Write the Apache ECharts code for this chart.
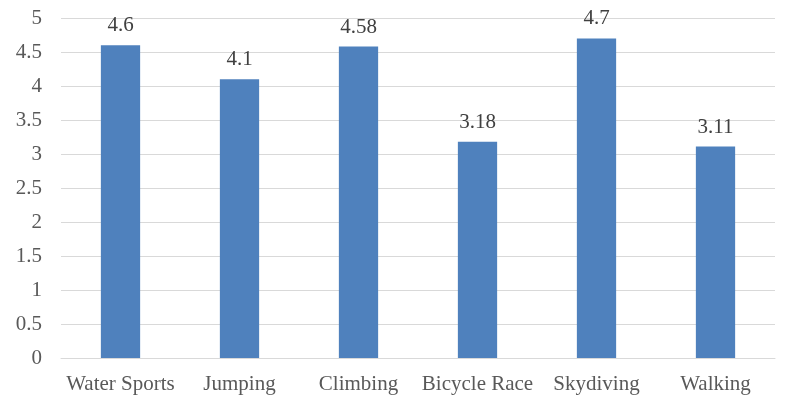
<!DOCTYPE html>
<html>
<head>
<meta charset="utf-8">
<script src="https://cdn.jsdelivr.net/npm/echarts@6/dist/echarts.min.js"></script>
<style>
  html, body { margin: 0; padding: 0; background: #fff; }
  #chart { width: 789px; height: 398px; }
</style>
</head>
<body>
<div id="chart"></div>
<script>
var categories = ['Water Sports', 'Jumping', 'Climbing', 'Bicycle Race', 'Skydiving', 'Walking'];
var values = [4.6, 4.1, 4.58, 3.18, 4.7, 3.11];
var valueLabels = ['4.6', '4.1', '4.58', '3.18', '4.7', '3.11'];

var font = '"Liberation Serif", "Times New Roman", serif';
var chart = echarts.init(document.getElementById('chart'));
chart.setOption({
    animation: false,
    grid: { left: 61, right: 14, top: 18, bottom: 40, containLabel: false },
    xAxis: {
        type: 'category',
        data: categories,
        axisLine: { show: true, lineStyle: { color: '#d9d9d9', width: 1 } },
        axisTick: { show: false },
        axisLabel: { color: '#595959', fontFamily: font, fontSize: 21, margin: 16, interval: 0 }
    },
    yAxis: {
        type: 'value',
        min: 0,
        max: 5,
        interval: 0.5,
        axisLine: { show: false },
        axisTick: { show: false },
        splitLine: { lineStyle: { color: '#d9d9d9', width: 1 } },
        axisLabel: { color: '#595959', fontFamily: font, fontSize: 21, margin: 19 }
    },
    series: [{
        type: 'bar',
        data: values,
        barWidth: '33%',
        itemStyle: { color: '#4f81bd' },
        label: {
            show: true,
            position: 'top',
            distance: 9,
            color: '#404040',
            fontFamily: font,
            fontSize: 21,
            formatter: function (p) { return valueLabels[p.dataIndex]; }
        }
    }]
});
</script>
</body>
</html>
